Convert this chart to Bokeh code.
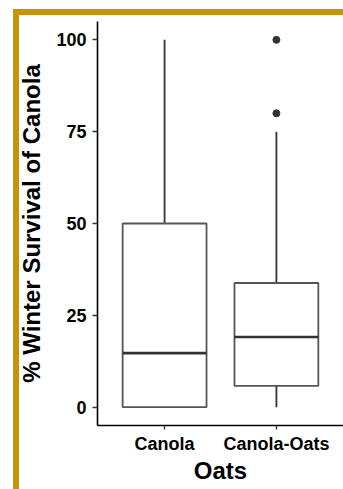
from bokeh.plotting import figure
from bokeh.models import FactorRange, Range1d, FixedTicker, ColumnDataSource
from bokeh.embed import file_html
from bokeh.resources import INLINE

categories = ["Canola", "Canola-Oats"]
q1 = [0, 5.8]
median = [14.7, 19.1]
q3 = [50, 33.8]
lower = [0, 0]
upper = [100, 75]
out_cat = ["Canola-Oats", "Canola-Oats"]
out_val = [100, 80]
y_ticks = [0, 25, 50, 75, 100]

W, H = 343, 489
gold = "#C8920C"
p = figure(width=W, height=H, output_backend="svg", toolbar_location=None,
           x_range=FactorRange(factors=categories, range_padding=0.1, range_padding_units="absolute"),
           y_range=Range1d(-5, 105),
           min_border_left=97, min_border_right=0, min_border_top=21, min_border_bottom=64,
           styles={"background": f"linear-gradient({gold},{gold}) 13px 9px / 6px 480px no-repeat, "
                                 f"linear-gradient({gold},{gold}) 13px 9px / 330px 6px no-repeat, white"})
p.outline_line_color = None
p.xgrid.visible = False
p.ygrid.visible = False
p.background_fill_color = "white"
p.border_fill_color = None

src = ColumnDataSource(dict(cat=categories, q1=q1, med=median, q3=q3, lo=lower, up=upper))

p.segment(x0="cat", y0="q3", x1="cat", y1="up", source=src, line_color="#333333", line_width=1.8)
p.segment(x0="cat", y0="lo", x1="cat", y1="q1", source=src, line_color="#333333", line_width=1.8)
p.vbar(x="cat", top="q3", bottom="q1", width=0.75, source=src,
       fill_color="white", line_color="#555555", line_width=1.8)
p.vbar(x="cat", top="med", bottom="med", width=0.75, source=src,
       fill_color=None, line_color="#333333", line_width=2.6)
p.scatter(x=out_cat, y=out_val, size=7, color="#333333")

for ax in (p.xaxis[0], p.yaxis[0]):
    ax.axis_line_color = "black"
    ax.axis_line_width = 1.6
    ax.major_tick_line_color = "#333333"
    ax.major_tick_line_width = 1.4
    ax.major_tick_out = 5
    ax.major_tick_in = 0
    ax.minor_tick_line_color = None
    ax.major_label_text_font = "Liberation Sans"
    ax.major_label_text_font_style = "bold"
    ax.major_label_text_font_size = "18px"
    ax.major_label_text_color = "black"
    ax.axis_label_text_font = "Liberation Sans"
    ax.axis_label_text_font_style = "bold"
    ax.axis_label_text_font_size = "24px"
    ax.axis_label_text_color = "black"

p.yaxis.ticker = FixedTicker(ticks=y_ticks)
p.yaxis.major_label_standoff = 6
p.yaxis.axis_label = "% Winter Survival of Canola"
p.yaxis.axis_label_standoff = 8
p.xaxis.axis_label = "Oats"
p.xaxis.major_tick_out = 4
p.xaxis.major_label_standoff = 4
p.xaxis.axis_label_standoff = 0

open("out.html", "w").write(file_html(p, INLINE))
